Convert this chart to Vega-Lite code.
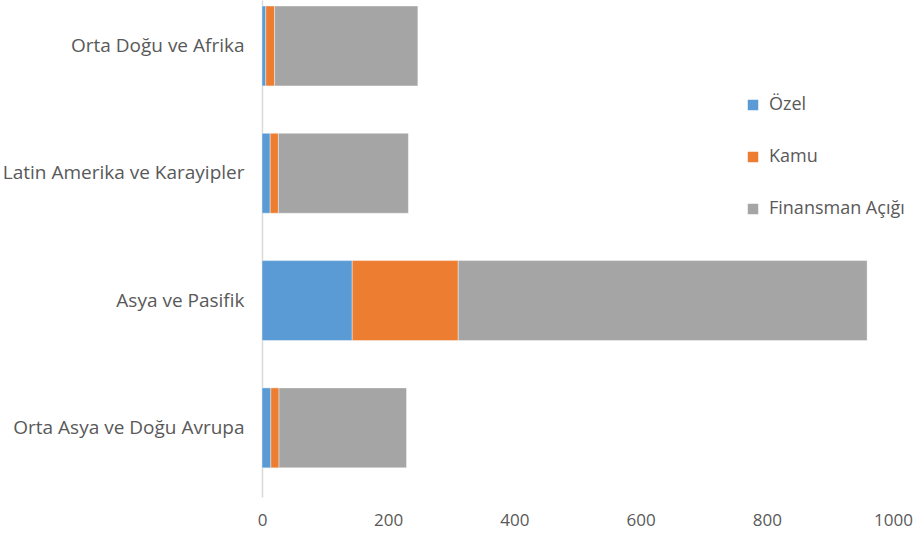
{
  "$schema": "https://vega.github.io/schema/vega-lite/v6.json",
  "width": 631,
  "height": 497,
  "autosize": "none",
  "padding": {"left": 262, "top": 0, "right": 31, "bottom": 37},
  "background": "white",
  "config": {
    "view": {"stroke": null},
    "font": "Open Sans",
    "axis": {"labelColor": "#595959", "labelFont": "Open Sans", "labelFontSize": 17},
    "legend": {"labelColor": "#595959", "labelFont": "Open Sans", "labelFontSize": 18}
  },
  "data": {
    "values": [
      {"bolge": "Orta Doğu ve Afrika", "kaynak": "Özel", "sira": 1, "deger": 6},
      {"bolge": "Orta Doğu ve Afrika", "kaynak": "Kamu", "sira": 2, "deger": 14},
      {"bolge": "Orta Doğu ve Afrika", "kaynak": "Finansman Açığı", "sira": 3, "deger": 227},
      {"bolge": "Latin Amerika ve Karayipler", "kaynak": "Özel", "sira": 1, "deger": 13},
      {"bolge": "Latin Amerika ve Karayipler", "kaynak": "Kamu", "sira": 2, "deger": 13},
      {"bolge": "Latin Amerika ve Karayipler", "kaynak": "Finansman Açığı", "sira": 3, "deger": 206},
      {"bolge": "Asya ve Pasifik", "kaynak": "Özel", "sira": 1, "deger": 143},
      {"bolge": "Asya ve Pasifik", "kaynak": "Kamu", "sira": 2, "deger": 168},
      {"bolge": "Asya ve Pasifik", "kaynak": "Finansman Açığı", "sira": 3, "deger": 648},
      {"bolge": "Orta Asya ve Doğu Avrupa", "kaynak": "Özel", "sira": 1, "deger": 14},
      {"bolge": "Orta Asya ve Doğu Avrupa", "kaynak": "Kamu", "sira": 2, "deger": 13},
      {"bolge": "Orta Asya ve Doğu Avrupa", "kaynak": "Finansman Açığı", "sira": 3, "deger": 202}
    ]
  },
  "mark": {"type": "bar", "stroke": "#ffffff", "strokeOpacity": 0.4, "strokeWidth": 1},
  "encoding": {
    "y": {
      "field": "bolge",
      "type": "nominal",
      "sort": ["Orta Doğu ve Afrika", "Latin Amerika ve Karayipler", "Asya ve Pasifik", "Orta Asya ve Doğu Avrupa"],
      "scale": {"paddingInner": 0.372, "paddingOuter": 0.138, "align": 0.17},
      "axis": {
        "title": null,
        "ticks": false,
        "domain": true,
        "domainColor": "#d9d9d9",
        "domainWidth": 1.5,
        "labelPadding": 18,
        "labelFontSize": 19,
        "labelLimit": 400,
        "grid": false
      }
    },
    "x": {
      "field": "deger",
      "type": "quantitative",
      "stack": "zero",
      "scale": {"domain": [0, 1000], "nice": false},
      "axis": {
        "title": null,
        "values": [0, 200, 400, 600, 800, 1000],
        "format": "d",
        "grid": false,
        "domain": false,
        "ticks": false,
        "labelPadding": 15,
        "labelFlush": false
      }
    },
    "color": {
      "field": "kaynak",
      "type": "nominal",
      "sort": ["Özel", "Kamu", "Finansman Açığı"],
      "scale": {"domain": ["Özel", "Kamu", "Finansman Açığı"], "range": ["#5b9bd5", "#ed7d31", "#a5a5a5"]},
      "legend": {
        "title": null,
        "orient": "none",
        "legendX": 482,
        "legendY": 96,
        "symbolType": "square",
        "symbolSize": 110,
        "symbolStrokeWidth": 0,
        "rowPadding": 34,
        "labelOffset": 7,
        "labelLimit": 300
      }
    },
    "order": {"field": "sira", "type": "quantitative"}
  }
}
